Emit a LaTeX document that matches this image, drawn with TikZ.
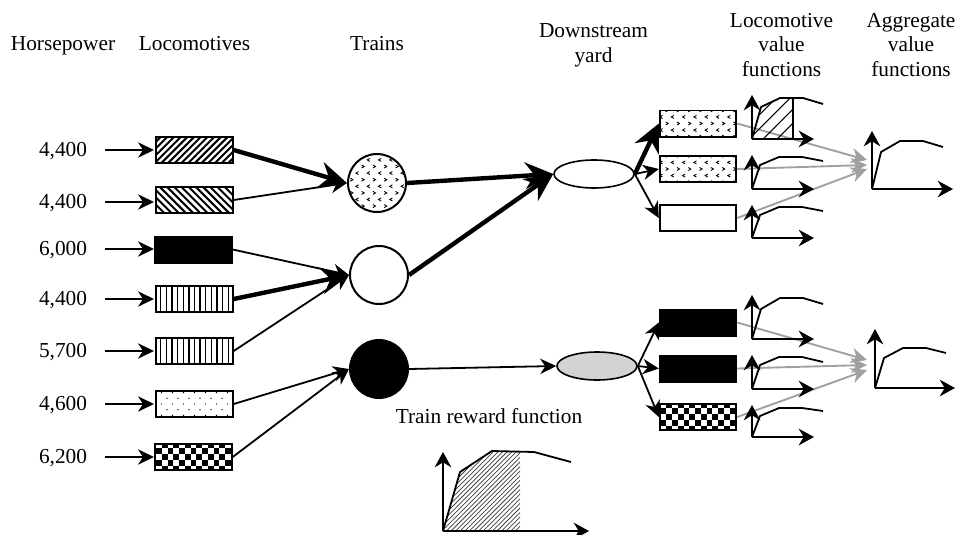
\documentclass[tikz,border=0pt]{standalone}
\usepackage{fontspec}
\setmainfont{Liberation Serif}
\usetikzlibrary{arrows.meta,shapes.geometric}
\newcommand{\confetti}[2]{%
  \foreach \r in {0,...,#2}{
    \pgfmathsetmacro{\yy}{(\r-#2/2)*6.6}
    \pgfmathsetmacro{\off}{mod(\r,2)*5.6}
    \pgfmathsetmacro{\sgn}{mod(\r,2)==0 ? 1 : -1}
    \foreach \c in {0,...,#1}{
      \pgfmathsetmacro{\xx}{(\c-#1/2)*11.3+\off-2.8}
      \draw[line width=.65pt] (\xx-\sgn*1.3,\yy-1.5) -- (\xx+\sgn*1.3,\yy) -- (\xx-\sgn*1.3,\yy+1.5);
    }
  }%
}
\newcommand{\loadchart}[9]{% ox oy top xend x1 y1 y2 x4 y4
  \draw[axis] (#1,#2) -- (#1,#3);
  \draw[axis] (#1,#2) -- (#4,#2);
  \draw[curve] (#1,#2) -- (#5,#6) -- (#5+19,#7) -- (#5+42,#7) -- (#8,#9);
}
\tikzset{
  every node/.style={font=\fontsize{16}{18.6}\selectfont},
  label text/.style={align=center,inner sep=0pt},
  base text/.style={inner sep=0pt,anchor=base},
  loco/.style={draw=black,line width=1.3pt,minimum width=57.5pt,minimum height=19.7pt,inner sep=0pt,fill=white},
  blackbox/.style={loco,fill=black},
  train/.style={circle,draw=black,line width=1.5pt,minimum size=43.5pt,inner sep=0pt,fill=white},
  yard/.style={ellipse,draw=black,line width=1.2pt,minimum width=60pt,minimum height=21pt,inner sep=0pt,fill=white},
  thin arrow/.style={line width=1.35pt,-{Stealth[length=12pt,width=11.5pt,inset=3.8pt]}},
  thick arrow/.style={line width=3.3pt,-{Stealth[length=21pt,width=20pt,inset=7pt]}},
  gray arrow/.style={draw={rgb,255:red,160;green,160;blue,160},line width=1.4pt,-{Stealth[length=12pt,width=11.5pt,inset=3.8pt]}},
  axis/.style={line width=1.35pt,-{Stealth[length=11.5pt,width=12.5pt,inset=3.8pt]}},
  curve/.style={line width=1.35pt,line join=round},
  updiag/.style={path picture={\foreach \i in {-20,...,20}{\draw[line width=1.5pt] (\i*6.7-20,20)--(\i*6.7+20,-20);}}},
  downdiag/.style={path picture={\foreach \i in {-20,...,20}{\draw[line width=1.5pt] (\i*7.2-20,-20)--(\i*7.2+20,20);}}},
  vert/.style={path picture={\foreach \i in {-8,...,8}{\draw[line width=1pt] (\i*5.65,-20)--(\i*5.65,20);}}},
  dots/.style={path picture={\foreach \r in {-2,...,2}{\foreach \c in {-5,...,5}{\pgfmathsetmacro{\ox}{mod(\r+4,2)*5.5}\fill[black] (\c*11+\ox,\r*5.7) circle (.55pt);}}}},
  checker/.style={path picture={\foreach \r in {-3,...,3}{\foreach \c in {-9,...,9}{\pgfmathtruncatemacro{\chk}{mod(\r+\c+24,2)}\ifnum\chk=1 \fill[black] (\c*5.75-2.87,\r*5.75-2.87) rectangle ++(5.75,5.75);\fi}}}},
  confbox/.style={path picture={\confetti{7}{4}}},
  confcircle/.style={path picture={\confetti{6}{9}}},
}
\begin{document}
\begin{tikzpicture}[x=.75pt,y=-.75pt]
\useasboundingbox (0,0) rectangle (956,535);
% headings
\node[base text] (hHorse) at (63,51) {Horsepower};
\node[base text] (hLoco) at (194.5,51) {Locomotives};
\node[base text] (hTrains) at (377,51) {Trains};
\node[label text] (hYard) at (593.5,45.5) {Downstream\\yard};
\node[label text] (hLval) at (781.5,45) {Locomotive\\value\\functions};
\node[label text] (hAgg) at (911,45) {Aggregate\\value\\functions};
% horsepower values
\node[base text] (v1) at (63,156) {4,400};
\node[base text] (v2) at (63,208) {4,400};
\node[base text] (v3) at (63,255) {6,000};
\node[base text] (v4) at (63,305) {4,400};
\node[base text] (v5) at (63,357) {5,700};
\node[base text] (v6) at (63,410) {4,600};
\node[base text] (v7) at (63,463) {6,200};
\node[base text] (reward) at (489,423) {Train reward function};
% locomotives
\node[loco,updiag] (l1) at (194.5,150) {};
\node[loco,downdiag] (l2) at (194.5,200) {};
\node[blackbox] (l3) at (193.5,249.5) {};
\node[loco,vert] (l4) at (194.5,299) {};
\node[loco,vert] (l5) at (194.5,351) {};
\node[loco,dots] (l6) at (194.5,404) {};
\node[loco,checker] (l7) at (193.5,457) {};
% input arrows
\foreach \i/\y in {1/150,2/202,3/249,4/299,5/351,6/404,7/457}{
  \coordinate (in\i) at (105,\y);
  \coordinate (out\i) at (154,\y);
  \draw[thin arrow] (in\i) -- (out\i);
}
% trains
\node[train,confcircle] (t1) at (377,183) {};
\node[train] (t2) at (379,275) {};
\node[train,fill=black] (t3) at (379,369) {};
% yards
\node[yard] (y1) at (594,174) {};
\node[yard,fill={rgb,255:red,211;green,211;blue,211}] (y2) at (597,366) {};
% right boxes
\node[loco,confbox] (a1) at (698,123.5) {};
\node[loco,confbox] (a2) at (698,169) {};
\node[loco] (a3) at (698,218) {};
\node[blackbox] (b1) at (698,322.5) {};
\node[blackbox] (b2) at (698,368.5) {};
\node[loco,checker] (b3) at (698,417) {};
% loco to train
\draw[thick arrow] (l1.east) -- (t1.west);
\draw[thin arrow] (l2.east) -- (t1.west);
\draw[thin arrow] (l3.east) -- (t2.west);
\draw[thick arrow] (l4.east) -- (t2.west);
\draw[thin arrow] (l5.east) -- (t2.west);
\draw[thin arrow] (l6.east) -- (t3.west);
\draw[thin arrow] (l7.east) -- (t3.west);
% train to yard
\draw[thick arrow] (t1.east) -- (y1.west);
\draw[thick arrow] (t2.east) -- (y1.west);
\draw[thin arrow] (t3.east) -- (y2.west);
% yard to boxes
\draw[thick arrow] (y1.east) -- (a1.west);
\draw[thin arrow] (y1.east) -- (a2.west);
\draw[thin arrow] (y1.east) -- (a3.west);
\draw[thin arrow] (y2.east) -- (b1.west);
\draw[thin arrow] (y2.east) -- (b2.west);
\draw[thin arrow] (y2.east) -- (b3.west);
% gray arrows
\coordinate (g1) at (867,160);
\coordinate (g2) at (867,165);
\coordinate (g3) at (867,169);
\coordinate (g4) at (867,360);
\coordinate (g5) at (867,365);
\coordinate (g6) at (867,370);
\draw[gray arrow] (a1.east) -- (g1);
\draw[gray arrow] (a2.east) -- (g2);
\draw[gray arrow] (a3.east) -- (g3);
\draw[gray arrow] (b1.east) -- (g4);
\draw[gray arrow] (b2.east) -- (g5);
\draw[gray arrow] (b3.east) -- (g6);
% hatched area of first value function
\begin{scope}
\clip (752,139) -- (761,107) -- (779,98) -- (793,98) -- (793,139) -- cycle;
\foreach \i in {0,...,7}{\draw[line width=.8pt] (735+\i*14,139) -- (735+\i*14+45,94);}
\end{scope}
\draw[line width=1.35pt] (793,98) -- (793,139);
% small value functions
\loadchart{752}{139}{95}{814}{761}{107}{98}{823}{104}
\loadchart{752}{189}{155}{814}{760}{165}{157}{823}{161}
\loadchart{752}{238}{205}{814}{760}{215}{207}{823}{211}
\loadchart{752}{339}{295}{814}{761}{309}{298}{823}{304}
\loadchart{752}{389}{355}{814}{760}{365}{357}{823}{362}
\loadchart{752}{437}{405}{814}{760}{416}{408}{823}{411}
% aggregate
\loadchart{872}{189}{131}{953}{881}{152}{141}{943}{147}
\loadchart{875}{388}{329}{955}{884}{358}{348}{946}{353}
% reward function
\begin{scope}
\clip (443,531) -- (460,472) -- (492,452) -- (520,452) -- (520,531) -- cycle;
\foreach \i in {0,...,30}{\draw[line width=.55pt,black!75] (405+\i*4.6,531) -- (405+\i*4.6+85,446);}
\end{scope}
\draw[axis] (443,531) -- (443,452);
\draw[axis] (443,531) -- (589,531);
\draw[curve] (443,531) -- (460,472) -- (492,451) -- (534,452) -- (571,462);
\end{tikzpicture}
\end{document}
